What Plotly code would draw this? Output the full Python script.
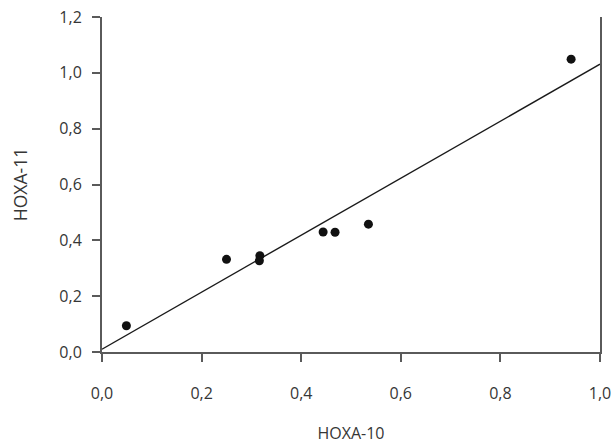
import plotly.graph_objects as go

# Data
hoxa10 = [0.049, 0.250, 0.317, 0.316, 0.444, 0.468, 0.535, 0.942]
hoxa11 = [0.094, 0.332, 0.345, 0.327, 0.430, 0.429, 0.458, 1.049]

# Regression line endpoints
fit_x = [0.0, 1.0]
fit_y = [0.010, 1.031]

x_ticks = [0.0, 0.2, 0.4, 0.6, 0.8, 1.0]
y_ticks = [0.0, 0.2, 0.4, 0.6, 0.8, 1.0, 1.2]

FONT = "Open Sans"
TXT = "#363636"
AX = "#5a5a5a"

fig = go.Figure()
fig.add_trace(go.Scatter(
    x=fit_x, y=fit_y, mode="lines",
    line=dict(color="#1a1a1a", width=1.4),
    showlegend=False, hoverinfo="skip", cliponaxis=False,
))
fig.add_trace(go.Scatter(
    x=hoxa10, y=hoxa11, mode="markers",
    marker=dict(color="#111111", size=9, line=dict(width=0)),
    showlegend=False, cliponaxis=False,
))

fig.update_layout(
    width=616, height=444,
    margin=dict(l=102, r=16, t=17, b=92),
    paper_bgcolor="white", plot_bgcolor="white",
    separators=",.",
    font=dict(family=FONT, size=16, color=TXT),
    showlegend=False,
)
fig.update_xaxes(
    range=[0, 1.0], tickvals=x_ticks, tickformat=".1f",
    showgrid=False, zeroline=False,
    showline=True, linecolor=AX, linewidth=2,
    ticks="outside", ticklen=8, tickwidth=2, tickcolor=AX,
    ticklabelstandoff=18, ticklabeloverflow="allow",
    tickfont=dict(family=FONT, size=16, color=TXT),
    title=dict(text="HOXA-10", font=dict(family=FONT, size=16, color=TXT), standoff=28),
    automargin=False,
)
fig.update_yaxes(
    range=[0, 1.2], tickvals=y_ticks, tickformat=".1f",
    showgrid=False, zeroline=False,
    showline=True, linecolor=AX, linewidth=2, mirror=True,
    ticks="outside", ticklen=8, tickwidth=2, tickcolor=AX,
    ticklabelstandoff=7, ticklabeloverflow="allow",
    tickfont=dict(family=FONT, size=16, color=TXT),
    title=dict(text="HOXA-11", font=dict(family=FONT, size=17.5, color=TXT), standoff=27),
    automargin=False,
)

# Remove the default page margin so the figure fills the 616x444 window exactly
fig.write_html(
    "out.html",
    config={"displayModeBar": False},
    post_script="document.body.style.margin='0';",
)
